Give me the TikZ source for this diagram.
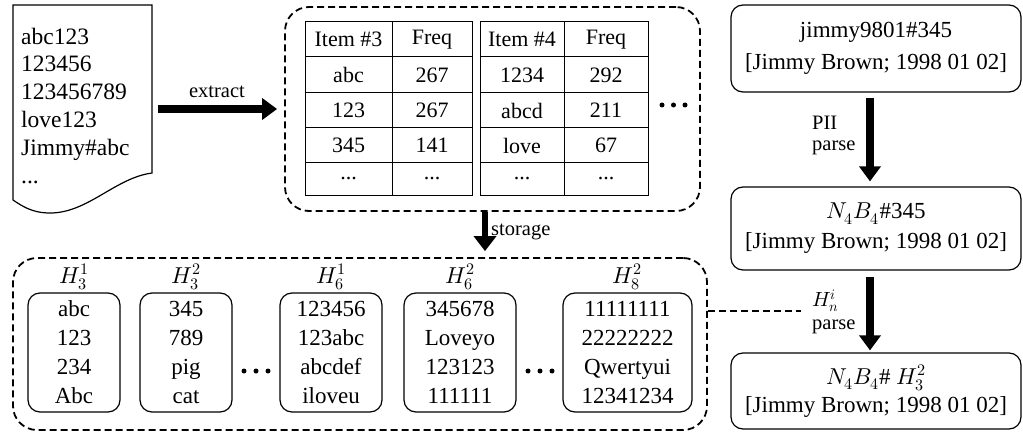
\documentclass[tikz,border=0pt]{standalone}
\usepackage{fontspec}
\usepackage{unicode-math}
\setmainfont{Liberation Serif}
\setmathfont{Latin Modern Math}
\usetikzlibrary{arrows.meta}
\newcommand\tdots{...}
\begin{document}
\begin{tikzpicture}[x=1pt,y=-1pt,
 every node/.style={font=\fontsize{23}{28}\selectfont, inner sep=0pt},
 lbl/.style={font=\fontsize{20.5}{25}\selectfont},
 tb/.style={font=\fontsize{22}{26}\selectfont},
 rbox/.style={draw, rounded corners=12pt, line width=1.2pt, align=center},
 ibox/.style={draw, rounded corners=12pt, line width=1.2pt, align=center, minimum height=119pt, font=\fontsize{23}{29}\selectfont},
 dbox/.style={draw, line width=1.8pt, dash pattern=on 7pt off 4pt, rounded corners=24pt},
 fat/.style={line width=7.5pt, -{Triangle[length=15pt,width=21pt]}},
 slimfat/.style={line width=6pt, -{Triangle[length=15pt,width=22pt]}},
 bdot/.style={circle, fill, minimum size=5pt, inner sep=0pt},
 grid/.style={line width=1pt}
]
\useasboundingbox (0,0) rectangle (1023,433);

% document
\draw[line width=1.2pt] (13,5) -- (152,5) -- (152,173) .. controls (115,178) and (88,213) .. (50,213) .. controls (32,213) and (22,206) .. (13,200) -- cycle;
\node[minimum width=139pt, minimum height=208pt] (doc) at (82.5,109) {};
\node[anchor=north west, align=left, font=\fontsize{23.5}{27.8}\selectfont] (doctext) at (21,27.5) {abc123\\123456\\123456789\\love123\\Jimmy\#abc\\...};

% top dashed box
\node[dbox, minimum width=415pt, minimum height=204pt] (top) at (492.5,109) {};
\draw[fat, shorten <=6pt, shorten >=7pt] (doc.east |- top) -- (top.west);
\node[lbl] (extract) at (217,92) {extract};

% tables
\foreach \xa/\xb/\xc [count=\t] in {305/392/472, 480/564/648}{
  \draw[grid] (\xa,22) rectangle (\xc,195);
  \draw[grid] (\xb,22) -- (\xb,195);
  \foreach \yy in {57,93,128,163}{ \draw[grid] (\xa,\yy) -- (\xc,\yy); }
}
\foreach \a/\b/\yy [count=\r] in {Item \#3/Freq/39.5, abc/267/75, 123/267/110.5, 345/141/145.5, \tdots/\tdots/179}{
  \node[tb] (ta\r) at (348.5,\yy) {\a};
  \node[tb] (tb\r) at (432,\yy) {\b};
}
\foreach \a/\b/\yy [count=\r] in {Item \#4/Freq/39.5, 1234/292/75, abcd/211/110.5, love/67/145.5, \tdots/\tdots/179}{
  \node[tb] (tc\r) at (522,\yy) {\a};
  \node[tb] (td\r) at (606,\yy) {\b};
}
\node[bdot] (tx1) at (662,105) {};
\node[bdot] (tx2) at (673.5,105) {};
\node[bdot] (tx3) at (685,105) {};

% bottom dashed box
\node[dbox, minimum width=694pt, minimum height=172pt] (bot) at (360,344) {};
\coordinate (sx) at (485,0);
\draw[slimfat, shorten >=6pt] (top.south -| sx) -- (bot.north -| sx);
\node[lbl, anchor=west] (storage) at (491,232) {storage};

% inner boxes
\node[ibox, minimum width=92pt] (b1) at (74,352.5) {abc\\123\\234\\Abc};
\node[ibox, minimum width=92pt] (b2) at (186,352.5) {345\\789\\pig\\cat};
\node[ibox, minimum width=102pt] (b3) at (331,352.5) {123456\\123abc\\abcdef\\iloveu};
\node[ibox, minimum width=112pt] (b4) at (460,352.5) {345678\\Loveyo\\123123\\111111};
\node[ibox, minimum width=129pt] (b5) at (627.5,352.5) {11111111\\22222222\\Qwertyui\\12341234};
\node (h1) at (74,277) {$H_3^1$};
\node (h2) at (186,277) {$H_3^2$};
\node (h3) at (331,277) {$H_6^1$};
\node (h4) at (460,277) {$H_6^2$};
\node (h5) at (627.5,277) {$H_8^2$};
\node[bdot] (d1) at (244,371) {};
\node[bdot] (d2) at (256,371) {};
\node[bdot] (d3) at (268,371) {};
\node[bdot] (d4) at (528,371) {};
\node[bdot] (d5) at (540,371) {};
\node[bdot] (d6) at (552,371) {};

% right column
\node[rbox, minimum width=290pt, minimum height=87pt, font=\fontsize{23}{32}\selectfont] (r1) at (876,48.5) {jimmy9801\#345\\{[Jimmy Brown; 1998 01 02]}};
\node[rbox, minimum width=290pt, minimum height=83pt, font=\fontsize{23}{30}\selectfont] (r2) at (876,228.5) {$N_4B_4$\#345\\{[Jimmy Brown; 1998 01 02]}};
\node[rbox, minimum width=290pt, minimum height=76pt, font=\fontsize{23}{28}\selectfont] (r3) at (876,391) {$N_4B_4$\# $H_3^2$\\{[Jimmy Brown; 1998 01 02]}};
\coordinate (ax) at (870,0);
\draw[fat, shorten <=5pt, shorten >=5pt] (r1.south -| ax) -- (r2.north -| ax);
\draw[fat, shorten <=6pt, shorten >=2pt] (r2.south -| ax) -- (r3.north -| ax);
\node[lbl, anchor=west] (pii) at (812,123) {PII};
\node[lbl, anchor=west] (parse1) at (812,148) {parse};
\node[lbl, anchor=south west] (hni) at (812,312) {$H_n^i$};
\node[lbl, anchor=north west] (parse2) at (812,320) {parse};
\coordinate (hl) at (801,311);
\draw[line width=1.8pt, dash pattern=on 7pt off 4pt] (bot.east |- hl) -- (hl);
\end{tikzpicture}
\end{document}
